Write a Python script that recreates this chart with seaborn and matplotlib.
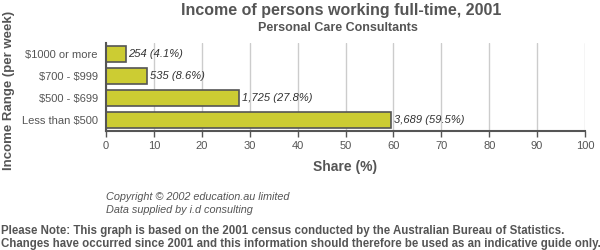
import matplotlib
matplotlib.use("Agg")
import matplotlib.pyplot as plt
import seaborn as sns
import pandas as pd

categories = ["$1000 or more", "$700 - $999", "$500 - $699", "Less than $500"]
shares = [4.1, 8.6, 27.8, 59.5]
counts = ["254", "535", "1,725", "3,689"]
xticks = [0, 10, 20, 30, 40, 50, 60, 70, 80, 90, 100]

sns.set_theme(style="white")
plt.rcParams['font.family'] = ['Liberation Sans', 'DejaVu Sans']
grey = "#555555"

df = pd.DataFrame({"cat": categories, "share": shares})

fig = plt.figure(figsize=(6, 2.5), dpi=100)
ax = fig.add_axes([106/600, 1-131/250, (585-106)/600, 88/250])
sns.barplot(data=df, x="share", y="cat", orient="h", color="#CCCC33",
            edgecolor="#555555", linewidth=1.2, width=0.76, ax=ax, saturation=1)
ax.set_xlim(0, 100)
ax.set_ylim(3.5, -0.5)
ax.set_xticks(xticks)
ax.set_xticklabels([str(t) for t in xticks], color=grey, fontsize=8)
ax.set_yticks(range(len(categories)))
ax.set_yticklabels([c.replace("$", r"\$") for c in categories])
ax.tick_params(axis='x', length=4, width=1, color=grey, pad=3, bottom=True)
ax.tick_params(axis='y', length=0, labelsize=8, labelcolor=grey, pad=6)
ax.grid(axis='x', color="#cccccc", linewidth=1)
ax.set_axisbelow(True)
for s in ["top", "right"]:
    ax.spines[s].set_visible(False)
for s in ["left", "bottom"]:
    ax.spines[s].set_color(grey)
    ax.spines[s].set_linewidth(1.5)
ax.set_ylabel("")
ax.set_xlabel("Share (%)", fontsize=10, fontweight="bold", color=grey, labelpad=7)

for i, (v, c) in enumerate(zip(shares, counts)):
    ax.text(v + 0.6, i, f"{c} ({v}%)", va="center", ha="left",
            fontsize=8, style="italic", color="#333333")

fig.text(341/600, 1-11/250, "Income of persons working full-time, 2001",
         ha="center", va="center", fontsize=11.5, fontweight="bold", color=grey)
fig.text(338/600, 1-28/250, "Personal Care Consultants",
         ha="center", va="center", fontsize=9, fontweight="bold", color=grey)
fig.text(9/600, 1-90/250, "Income Range (per week)", rotation=90,
         ha="center", va="center", fontsize=9.5, fontweight="bold", color=grey)
fig.text(106/600, 1-197/250, "Copyright \u00a9 2002 education.au limited",
         ha="left", va="center", fontsize=7.8, style="italic", color=grey)
fig.text(106/600, 1-210/250, "Data supplied by i.d consulting",
         ha="left", va="center", fontsize=7.8, style="italic", color=grey)
fig.text(1/600, 1-231/250,
         "Please Note: This graph is based on the 2001 census conducted by the Australian Bureau of Statistics.",
         ha="left", va="center", fontsize=8.3, fontweight="bold", color=grey)
fig.text(1/600, 1-244/250,
         "Changes have occurred since 2001 and this information should therefore be used as an indicative guide only.",
         ha="left", va="center", fontsize=8.3, fontweight="bold", color=grey)

fig.savefig("out.png", dpi=100)
